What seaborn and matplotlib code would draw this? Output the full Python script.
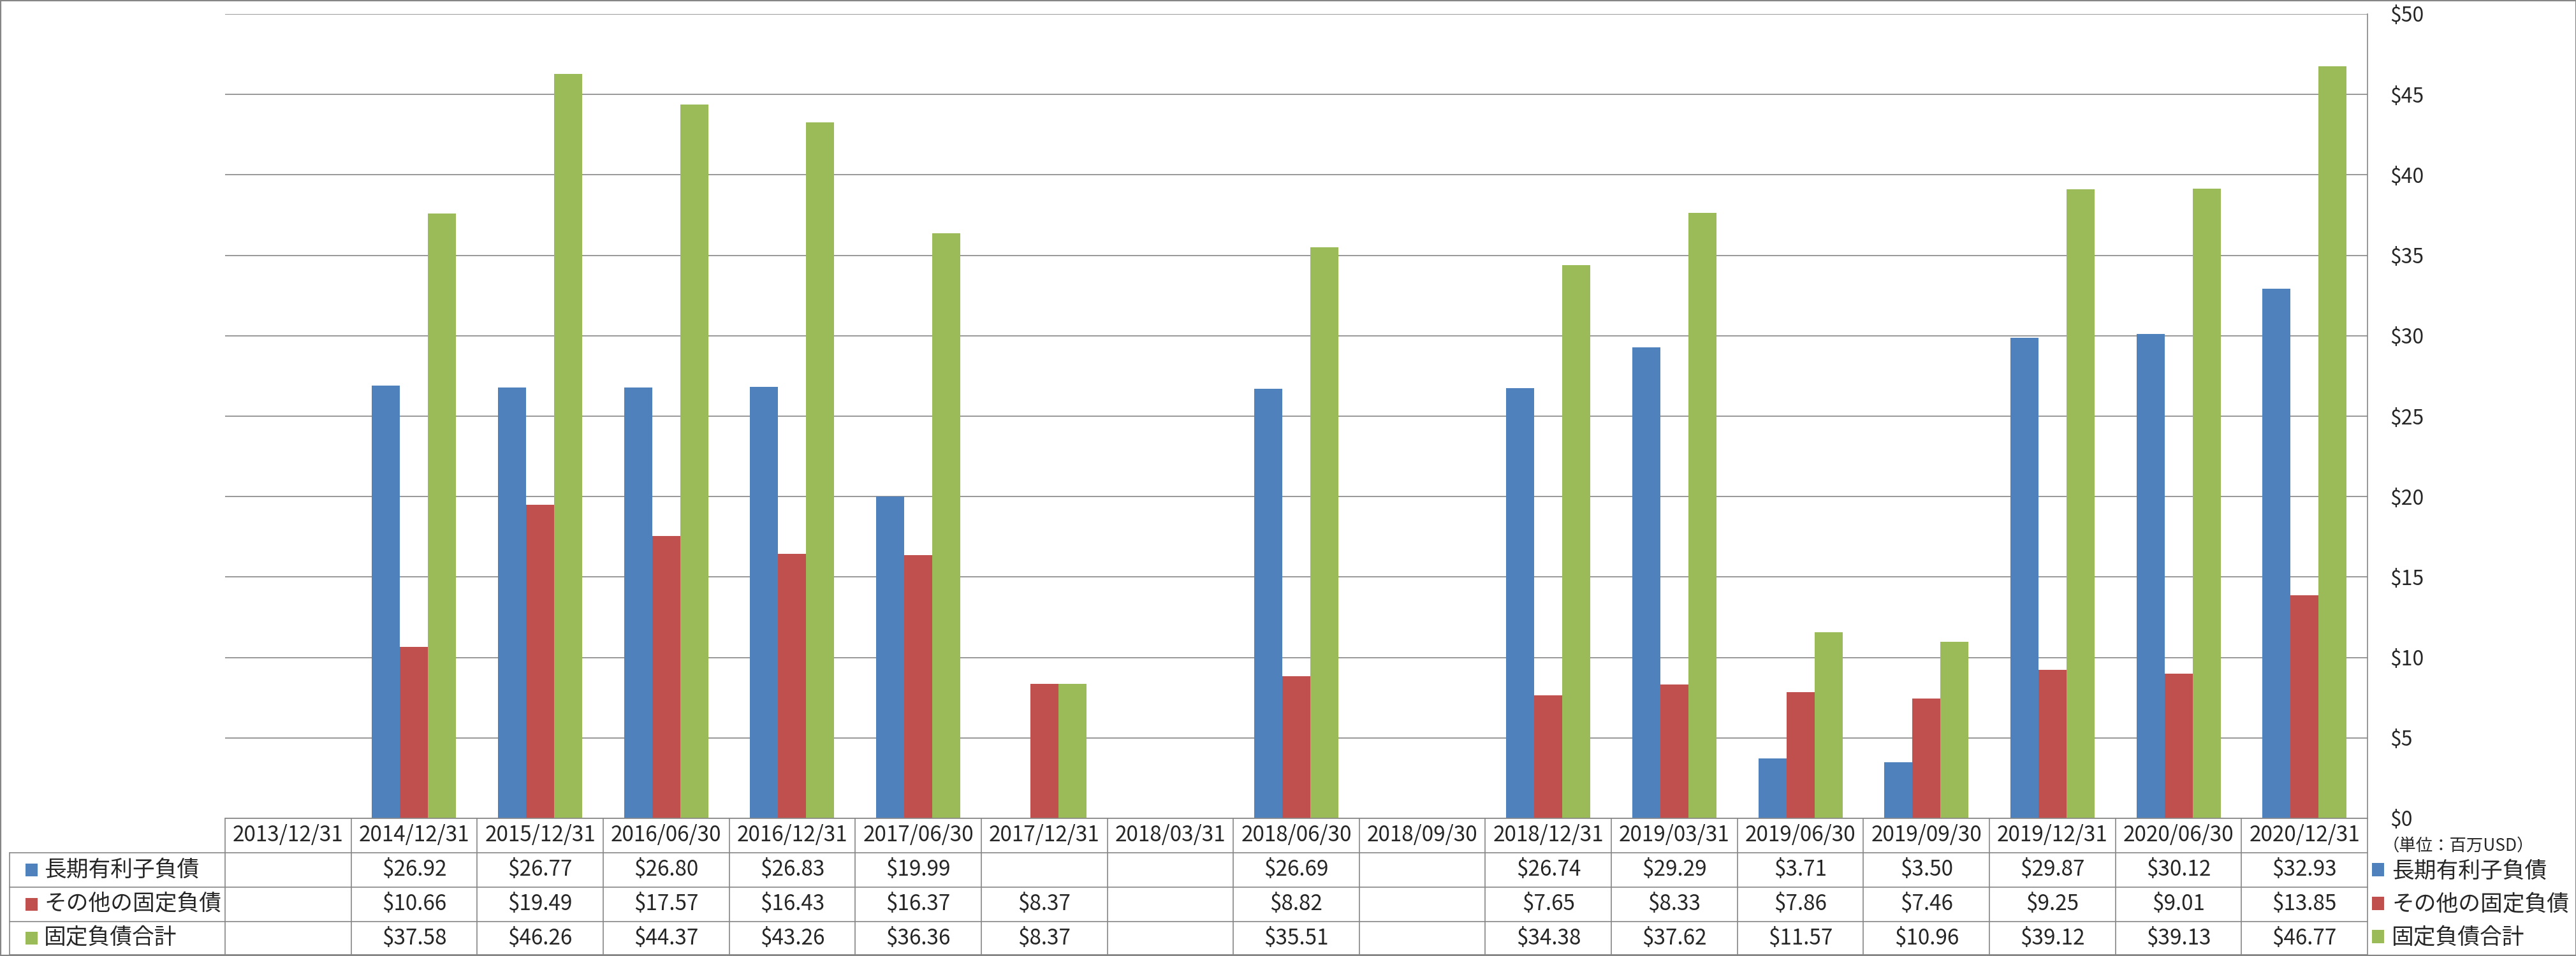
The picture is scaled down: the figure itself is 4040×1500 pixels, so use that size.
import seaborn as sns
import matplotlib.pyplot as plt
import numpy as np
import pandas as pd
from matplotlib.lines import Line2D
from matplotlib.patches import Rectangle
from matplotlib import transforms

dates = ["2013/12/31", "2014/12/31", "2015/12/31", "2016/06/30", "2016/12/31",
         "2017/06/30", "2017/12/31", "2018/03/31", "2018/06/30", "2018/09/30",
         "2018/12/31", "2019/03/31", "2019/06/30", "2019/09/30", "2019/12/31",
         "2020/06/30", "2020/12/31"]
series = ["長期有利子負債", "その他の固定負債", "固定負債合計"]
nan = np.nan
long_debt = [nan, 26.92, 26.77, 26.80, 26.83, 19.99, nan, nan, 26.69, nan,
             26.74, 29.29, 3.71, 3.50, 29.87, 30.12, 32.93]
other_debt = [nan, 10.66, 19.49, 17.57, 16.43, 16.37, 8.37, nan, 8.82, nan,
              7.65, 8.33, 7.86, 7.46, 9.25, 9.01, 13.85]
total_debt = [nan, 37.58, 46.26, 44.37, 43.26, 36.36, 8.37, nan, 35.51, nan,
              34.38, 37.62, 11.57, 10.96, 39.12, 39.13, 46.77]
colors = ["#4F81BD", "#C0504D", "#9BBB59"]
unit_label = "（単位：百万USD）"

df = pd.DataFrame({
    "date": dates * 3,
    "series": np.repeat(series, len(dates)),
    "value": long_debt + other_debt + total_debt,
})

sns.set_style("white")
plt.rcParams['font.family'] = ['Noto Sans CJK JP', 'DejaVu Sans']

W, H = 4041, 1500
GRAY = "#868686"
fig = plt.figure(figsize=(W / 100, H / 100), dpi=100)
# plot area in pixels (top origin)
x0, x1, y0, y1 = 353, 3713, 1284, 22
ax = fig.add_axes([x0 / W, 1 - y0 / H, (x1 - x0) / W, (y0 - y1) / H])

sns.barplot(data=df, x="date", y="value", hue="series", order=dates,
            hue_order=series, palette=colors, saturation=1, width=0.668,
            errorbar=None, linewidth=0, ax=ax, legend=False)

ax.set_xlim(-0.5, len(dates) - 0.5)
ax.set_ylim(0, 50)
ax.set_yticks(np.arange(0, 51, 5))
ax.set_yticklabels([f"${v}" for v in range(0, 51, 5)])
ax.yaxis.tick_right()
ax.tick_params(axis="y", length=0, pad=25, labelsize=23)
ax.set_xticks([])
ax.set_xlabel("")
ax.set_ylabel("")
ax.yaxis.grid(True, color=GRAY, lw=1.2)
ax.set_axisbelow(True)
for s in ["left", "top", "bottom"]:
    ax.spines[s].set_visible(False)
ax.spines["right"].set_color(GRAY)
ax.spines["right"].set_linewidth(1.2)


def fy(py):
    return 1 - py / H


# data table under the chart, columns follow the category axis
tr = transforms.blended_transform_factory(ax.transData, fig.transFigure)
rows_y = [1284, 1338, 1392, 1446, 1498]
lab_x = 15
for i, yy in enumerate(rows_y):
    xa = x0 if i == 0 else lab_x
    fig.add_artist(Line2D([xa / W, x1 / W], [fy(yy), fy(yy)],
                          transform=fig.transFigure, color=GRAY, lw=1.2))
for i in range(len(dates) + 1):
    fig.add_artist(Line2D([i - 0.5, i - 0.5], [fy(rows_y[0]), fy(rows_y[-1])],
                          transform=tr, color=GRAY, lw=1.2))
fig.add_artist(Line2D([lab_x / W, lab_x / W], [fy(rows_y[1]), fy(rows_y[-1])],
                      transform=fig.transFigure, color=GRAY, lw=1.2))

fs = 24
for i, d in enumerate(dates):
    fig.text(i, fy((rows_y[0] + rows_y[1]) / 2), d, transform=tr,
             ha="center", va="center", fontsize=fs)
for r, vals in enumerate([long_debt, other_debt, total_debt]):
    yc = fy((rows_y[r + 1] + rows_y[r + 2]) / 2)
    for i, v in enumerate(vals):
        if not np.isnan(v):
            fig.text(i, yc, f"${v:.2f}", transform=tr, ha="center",
                     va="center", fontsize=fs)
    fig.add_artist(Rectangle((40 / W, yc - 10 / H), 19 / W, 20 / H,
                             transform=fig.transFigure, color=colors[r], lw=0))
    fig.text(69 / W, yc, series[r], ha="left", va="center", fontsize=25)

# legend on the right
handles = [Rectangle((0, 0), 1, 1, color=c, lw=0) for c in colors]
fig.legend(handles, series, loc="upper left",
           bbox_to_anchor=(3720 / W, fy(1350)), frameon=False, fontsize=25,
           handlelength=0.55, handleheight=0.55, handletextpad=0.35,
           labelspacing=0.5, borderpad=0, borderaxespad=0)

fig.text(3737 / W, fy(1328), unit_label, ha="left", va="center", fontsize=19)

fig.add_artist(Rectangle((0, 0), 1, 1, transform=fig.transFigure,
                         fill=False, ec=GRAY, lw=3))

fig.savefig("out.png", dpi=100)
